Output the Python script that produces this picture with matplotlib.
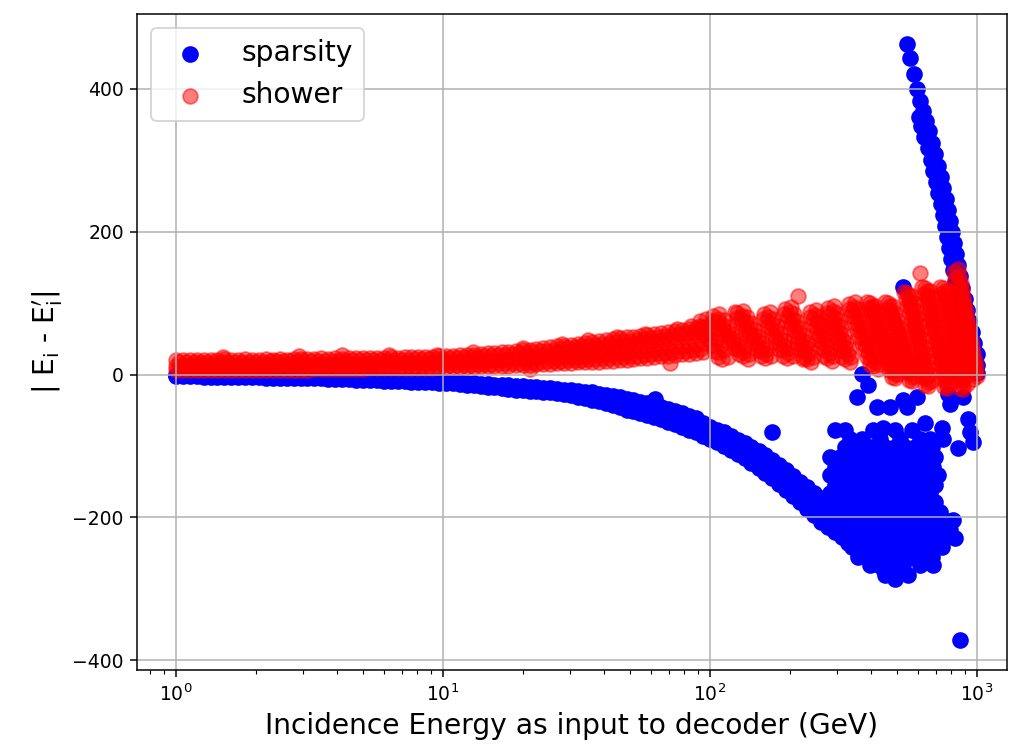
import matplotlib
matplotlib.use("Agg")
import matplotlib.pyplot as plt

# ---------------- data ----------------
# energies (GeV) of the low-energy band
band_energy = [1.00, 1.06, 1.13, 1.20, 1.27, 1.35, 1.43, 1.52, 1.61, 1.71,
               1.82, 1.93, 2.05, 2.18, 2.31, 2.45, 2.60, 2.76, 2.93, 3.11,
               3.30, 3.50, 3.72, 3.95, 4.19, 4.45, 4.72, 5.01, 5.32, 5.65,
               6.00, 6.37, 6.76, 7.18, 7.62, 8.09, 8.59, 9.12, 9.68, 10.3,
               10.9, 11.6, 12.3, 13.1, 13.9, 14.7, 15.6, 16.6, 17.6, 18.7,
               19.9, 21.1, 22.4, 23.8, 25.2, 26.8, 28.4, 30.2, 32.0, 34.0,
               36.1, 38.3, 40.7, 43.2, 45.9, 48.7, 51.7, 54.9, 58.3, 61.9,
               65.7, 69.8, 74.1, 78.7, 83.5, 88.7, 94.2]
band_energy_b = [1.03, 1.095, 1.165, 1.235, 1.31, 1.39, 1.475, 1.565, 1.66, 1.765,
                 1.875, 1.99, 2.115, 2.245, 2.38, 2.525, 2.68, 2.845, 3.02, 3.205,
                 3.40, 3.61, 3.835, 4.07, 4.32, 4.585, 4.865, 5.165, 5.485, 5.825,
                 6.185, 6.565, 6.97, 7.40, 7.855, 8.34, 8.855, 9.40, 9.99, 10.6,
                 11.25, 11.95, 12.7, 13.5, 14.3, 15.15, 16.1, 17.1, 18.15, 19.3,
                 20.5, 21.75, 23.1, 24.5, 26.0, 27.6, 29.3, 31.1, 33.0, 35.05,
                 37.2, 39.5, 41.95, 44.55, 47.3, 50.2, 53.3, 56.6, 60.1, 63.8,
                 67.75, 71.95, 76.4, 81.1, 86.1, 91.45]
tail_energy = [100, 106, 113, 120, 127, 135, 143, 152, 161, 171, 182, 193, 205,
               218, 231, 245, 260, 276, 293, 311, 330, 350, 372, 395, 419, 445, 472]

# sparsity: main descending curve (upper and lower edge, middle)
sparsity_top = [0, 0, -0.5, -0.5, -1, -1, -1, -1, -1.5, -1.5,
                -2, -2, -2, -2.5, -2.5, -2.5, -3, -3, -3, -3.5,
                -3.5, -3.5, -4, -4, -4.5, -4.5, -5, -5, -5.5, -6,
                -6.5, -6.5, -7, -7.5, -8, -8, -8.5, -9, -9.5, -10,
                -10.5, -11, -11.5, -12, -13, -13.5, -14, -14.5, -15, -15.5,
                -16, -17, -18, -19, -19.5, -20, -21, -22, -23, -24,
                -25, -27, -29, -30, -32, -34, -36, -38, -40, -42,
                -45, -48, -51, -54, -58, -61, -68, -73, -77, -81,
                -86, -91, -96, -101, -107, -113, -120, -127, -134, -142,
                -150, -158, -166, -173, -180, -186, -192, -199, -205, -212,
                -218, -224, -230, -237]
sparsity_bottom = [-2, -2, -2.5, -2.5, -3, -3, -3, -3, -3.5, -3.5,
                   -4, -4, -4, -4.5, -4.5, -4.5, -5, -5, -5, -5.5,
                   -5.5, -5.5, -6, -6, -6.5, -6.5, -7, -7, -7.5, -8,
                   -8.5, -8.5, -9, -9.5, -10, -10, -10.5, -11, -11.5, -12,
                   -12.5, -13.5, -14, -15, -16, -17, -17.5, -19, -20, -21,
                   -22, -22.5, -23.5, -24, -25, -26, -27.5, -29, -31, -33,
                   -35, -37.5, -40, -43, -46, -49, -51, -54, -57, -59,
                   -62, -66, -69, -73, -77, -81, -86, -90, -95, -100,
                   -106, -111, -117, -124, -131, -138, -145, -153, -161, -170,
                   -178, -188, -197, -206, -214, -221, -228, -236, -243, -250,
                   -258, -265, -272, -279]
sparsity_middle = [-34.5, -36.5, -39, -41.5, -43.5, -46, -48.5, -50.5, -53.5, -57,
                   -60, -63.5, -67.5, -71, -77, -81.5, -86, -90.5, -96, -101,
                   -106.5, -112.5, -119, -125.5, -132.5, -140, -147.5, -156, -164, -173,
                   -181.5, -189.5, -197, -203.5, -210, -217.5, -224, -231, -238, -244.5,
                   -251, -258]

# sparsity: scattered cluster at high energy  (deviation, energies)
cluster_rows = [
    (-78, [294, 320, 408, 493, 571]),
    (-90, [335, 371, 433, 515, 612, 667]),
    (-102, [320, 358, 398, 453, 493, 537, 586, 639, 679]),
    (-116, [281, 307, 335, 365, 391, 426, 464, 506, 552, 601, 656, 696]),
    (-129, [294, 320, 349, 381, 415, 453, 493, 537, 586, 639, 684]),
    (-141, [281, 307, 335, 365, 398, 433, 472, 515, 561, 612, 667, 715]),
    (-154, [294, 320, 349, 381, 415, 453, 493, 537, 586, 639, 696]),
    (-166, [281, 307, 335, 365, 398, 433, 472, 515, 561, 612, 667]),
    (-179, [270, 294, 320, 349, 381, 415, 453, 493, 537, 586, 639, 696]),
    (-192, [281, 307, 335, 365, 398, 433, 472, 515, 561, 612, 667, 727]),
    (-204, [294, 320, 349, 381, 415, 453, 493, 537, 586, 639, 696, 759, 813]),
    (-217, [307, 335, 365, 398, 433, 472, 515, 561, 612, 667, 727, 792]),
    (-229, [320, 349, 381, 415, 453, 493, 537, 586, 639, 696, 759, 827]),
    (-242, [340, 371, 404, 441, 480, 524, 571, 622, 679, 740]),
    (-255, [358, 391, 426, 464, 506, 571, 622, 679]),
    (-267, [398, 433, 472, 528, 612, 684]),
    (-280, [453, 493, 552]),
]
sparsity_extra_energy = [62.2, 170.7, 528, 864, 371, 391, 355, 596, 886, 779, 792, 422,
                         472, 547, 528, 926, 639, 445, 740, 942, 746, 966, 849, 493]
sparsity_extra_dev = [-33.6, -81, 123, -372, 1.4, -15, -32, -32, -32, -27, -41, -46,
                      -46, -46, -36, -62, -68, -75, -75, -81, -90, -95, -103, -286]

# sparsity: steep rising branch near 1 TeV
steep_energy_a = [546.8, 561.1, 580.8, 596.2, 611.8, 627.9, 644.3, 658.2, 678.5, 696.2,
                  714.5, 729.9, 746.0, 762.1, 778.8, 792.4, 806.2, 820.3, 834.6, 849.1,
                  863.7, 878.7, 897.9, 913.6, 933.6, 954.0, 974.4, 995.8, 1000.0, 1000.0]
steep_dev_a = [463, 443.4, 421, 400, 383.2, 369.2, 355.2, 341.3, 324.5, 309.1,
               292.3, 276.9, 261.5, 246.2, 230.8, 215.4, 200.0, 184.6, 169.2, 153.8,
               138.5, 121.7, 106.3, 90.9, 75.5, 60.1, 44.8, 29.4, 14.0, 2.8]
steep_energy_b = [603.9, 618.7, 634.8, 652.6, 669.7, 685.4, 701.1, 716.4, 731.9, 746.0,
                  758.8, 772.0, 785.6, 799.3, 813.2, 827.4, 844.0, 860.0, 877.3, 896.4,
                  915.8, 937.6, 956.4, 966.4]
steep_dev_b = [360.5, 347.9, 332.9, 316.8, 300.7, 284.6, 269.2, 253.8, 238.5, 223.1,
               207.7, 192.3, 176.9, 161.5, 146.2, 130.1, 114.0, 98.6, 83.2, 67.8,
               52.4, 37.1, 21.7, 8.4]

# shower: low-energy band (rows from lower to upper edge)
shower_low = [6, 6, 6, 6, 6, 6.5, 6, 6.5, 6.5, 6.5,
              6.5, 6.5, 6.5, 7, 7, 7, 7, 7, 7, 7,
              7.5, 7.5, 7.5, 7.5, 8, 8, 8, 8, 8.5, 8.5,
              8.5, 8.5, 9, 9, 9, 9.5, 9.5, 9.5, 10, 10,
              10.5, 10.5, 11, 11, 11.5, 11.5, 12, 12.5, 12.5, 13,
              13.5, 14, 14.5, 15, 15, 15.5, 16, 16.5, 17, 17,
              17.5, 18, 18.5, 19, 20, 20.5, 21.5, 22.5, 23.5, 24.5,
              25.5, 26.5, 27.5, 28.5, 29, 30, 31]
shower_mid = [12.5, 13, 12.5, 13, 13, 13, 12.5, 13.5, 13, 13,
              13.5, 13, 13.5, 13.5, 13.5, 14, 13.5, 14, 14, 14,
              14, 14.5, 14, 15, 14.5, 15, 15, 15, 15, 15.5,
              15.5, 16, 15.5, 16, 16, 16, 16.5, 16.5, 17, 17.5,
              18, 18, 18.5, 19, 19.5, 20, 20.5, 21, 22, 22.5,
              23, 24, 25, 26, 26,
              23.5, 24, 25, 25.5, 26, 27, 28, 28.5, 29.5, 30.5, 31,
              32.5, 33.5, 34.5, 36, 37, 38, 39.5, 40.5, 41.5, 42.5, 44]
shower_mid2 = [31, 32, 33, 34, 35, 36, 37, 38.5, 39.5, 40, 41.5,
               42.5, 44, 45.5, 46.5, 48, 49.5, 50.5, 52, 53, 54.5, 56]
shower_high = [20, 21, 20, 21, 20.5, 21, 20, 21.5, 20.5, 21,
               21.5, 20.5, 21, 21.5, 21, 22, 21, 21.5, 22, 21.5,
               22, 22.5, 22, 23, 22, 22.5, 23, 23.5, 22.5, 23.5,
               23, 24, 23.5, 24, 24.5, 24, 25, 24.5, 25.5, 26,
               26, 27, 27.5, 28, 29, 29.5, 30, 31, 32, 33,
               34, 35, 36, 37.5, 38.5, 39.5, 40.5, 42, 43, 44.5,
               46, 47, 48.5, 49.5, 50.5, 52, 53, 54.5, 56, 57,
               58.5, 60, 61.5, 63, 64, 65.5, 67]
shower_low_b = [9, 9, 9, 9, 9.5, 9.5, 9.5, 9.5, 9.5, 9.5,
                9.5, 9.5, 10, 10, 10, 10, 10, 10, 10, 10.5,
                10.5, 10.5, 10.5, 11, 11, 11, 11, 11.5, 11.5, 11.5,
                11.5, 12, 12, 12, 12.5, 12.5, 12.5, 13, 13, 13.5,
                13.5, 14, 14, 14.5, 14.5, 15, 15.5, 15.5, 16, 16.5,
                17, 17.5, 18, 18.5, 19, 19.5, 20, 20.5, 21, 21.5,
                22, 22.5, 23.5, 24, 25, 25.5, 26.5, 27.5, 28.5, 29.5,
                30.5, 31.5, 32.5, 33.5, 34.5, 35.5]
shower_high_b = [17, 17.5, 17.5, 17.5, 17.5, 17.5, 18, 17.5, 18, 18,
                 18, 18, 18, 18.5, 18.5, 18.5, 18.5, 18.5, 19, 19,
                 19, 19.5, 19.5, 19.5, 19.5, 20, 20, 20, 20.5, 20.5,
                 20.5, 21, 21, 21, 21.5, 21.5, 22, 22, 22.5, 23,
                 23.5, 24, 24.5, 25, 25.5, 26.5, 27, 28, 29, 29.5,
                 30.5, 31.5, 32.5, 33.5, 35, 36, 37, 38, 39.5, 40.5,
                 41.5, 43, 44, 45.5, 46.5, 47.5, 49, 50, 51.5, 53,
                 54, 55.5, 57, 58.5, 60, 61.5]
shower_bump_energy = [1.5, 2.9, 4.2, 6.3, 9.5, 13, 20, 28, 35, 45, 57, 75, 85]
shower_bump_dev = [25, 26, 27, 27, 28, 31, 37, 43, 48, 53, 57, 64, 68]
shower_outlier_energy = [124.1, 213.6, 223.0, 611.8, 70.8, 21.2]
shower_outlier_dev = [88.1, 110.5, 22.4, 142.7, 16.8, 8.4]

# shower: diagonal stripes at high energy (energies, deviations), several rows each
shower_stripes = [
    # stripe 0
    ([91.7, 94.7, 97.7, 100.9, 104.1, 107.4, 110.9],
     [75.5, 66.7, 57.8, 49.0, 40.2, 31.3, 22.4]),
    ([96.6, 99.7, 102.9, 106.3, 109.6, 113.1, 116.8],
     [78.3, 69.5, 60.6, 51.8, 43.0, 34.1, 25.2]),
    ([91.6, 94.6, 97.6, 100.7, 103.9, 107.2],
     [68.3, 59.5, 50.6, 41.8, 33.0, 24.1]),
    # stripe 1
    ([102.6, 107.1, 111.9, 116.8, 121.9, 127.4, 132.9],
     [82.5, 73.1, 63.9, 54.5, 45.2, 35.9, 26.6]),
    ([107.1, 111.9, 116.8, 121.9, 127.4, 132.9, 138.7],
     [78.3, 69.0, 59.7, 50.3, 41.0, 31.7, 22.4]),
    ([108.0, 112.8, 117.8, 123.0, 128.4, 134.2, 140.0],
     [85.3, 75.9, 66.7, 57.3, 48.0, 38.7, 29.4]),
    ([103.0, 107.6, 112.3, 117.3, 122.5, 127.9],
     [75.0, 65.7, 56.4, 47.1, 37.8, 28.5]),
    # stripe 2
    ([126.3, 130.6, 135.2, 139.9, 144.9, 150.0, 155.2, 160.7],
     [86.7, 77.8, 68.7, 59.7, 50.8, 41.8, 32.7, 23.8]),
    ([131.8, 136.4, 141.2, 146.2, 151.3, 156.6, 162.1],
     [82.5, 73.6, 64.5, 55.5, 46.6, 37.6, 28.5]),
    ([133.0, 137.5, 142.4, 147.3, 152.6, 158.0, 163.4, 169.2],
     [89.5, 80.6, 71.5, 62.5, 53.6, 44.6, 35.5, 26.6]),
    ([126.2, 130.6, 135.2, 140.0, 144.9, 150.0, 155.2],
     [79.5, 70.5, 61.4, 52.5, 43.5, 34.5, 25.5]),
    # stripe 3
    ([159.3, 163.5, 169.3, 175.2, 181.4, 187.7, 194.2],
     [85.3, 75.1, 64.8, 54.5, 44.3, 34.0, 23.8]),
    ([164.9, 170.7, 176.7, 182.9, 189.3, 195.9],
     [81.1, 70.9, 60.6, 50.3, 40.1, 29.8]),
    ([167.8, 172.2, 178.3, 184.5, 191.0, 197.7, 204.5],
     [88.1, 77.9, 67.6, 57.3, 47.1, 36.8, 26.6]),
    ([158.6, 163.6, 169.3, 175.3, 181.3, 187.6],
     [77.4, 67.2, 56.9, 46.6, 36.4, 26.1]),
    # stripe 4
    ([190.9, 195.9, 201.0, 206.3, 212.8, 218.6, 224.7, 230.8],
     [92.3, 82.4, 72.3, 62.4, 52.3, 42.4, 32.3, 22.4]),
    ([199.3, 204.5, 209.9, 215.4, 221.1, 226.9, 232.8, 239.0],
     [88.1, 78.2, 68.1, 58.2, 48.1, 38.2, 28.1, 18.2]),
    ([201.0, 206.3, 211.7, 217.3, 224.1, 230.2, 236.6, 243.1],
     [95.1, 85.2, 75.1, 65.2, 55.1, 45.2, 35.1, 25.2]),
    ([190.1, 195.0, 200.1, 205.9, 212.0, 217.8, 223.8],
     [84.6, 74.6, 64.6, 54.6, 44.6, 34.6, 24.6]),
    # stripe 5
    ([236.9, 243.1, 249.4, 256.0, 260.4, 267.3, 274.3],
     [88.1, 77.3, 66.7, 55.9, 45.2, 34.5, 23.8]),
    ([247.3, 253.8, 260.4, 267.3, 271.9, 279.1, 286.3],
     [83.9, 73.1, 62.5, 51.7, 41.0, 30.3, 19.6]),
    ([249.5, 256.0, 262.6, 269.6, 274.2, 281.5, 288.9],
     [90.9, 80.1, 69.5, 58.7, 48.0, 37.3, 26.6]),
    ([235.9, 242.0, 248.4, 253.8, 259.3, 266.2],
     [79.9, 69.2, 58.5, 47.8, 37.1, 26.4]),
    # stripe 6
    ([276.7, 281.4, 288.8, 293.9, 301.6, 306.9, 314.9, 320.4],
     [93.7, 83.5, 73.3, 63.1, 53.0, 42.8, 32.6, 22.4]),
    ([288.8, 293.9, 301.6, 306.9, 314.9, 320.4, 328.8, 334.5],
     [89.5, 79.3, 69.1, 58.9, 48.8, 38.6, 28.4, 18.2]),
    ([291.4, 296.3, 304.1, 309.5, 317.6, 323.2, 331.6, 337.4],
     [96.5, 86.3, 76.1, 65.9, 55.8, 45.6, 35.4, 25.2]),
    ([274.2, 280.2, 286.3, 292.6, 299.0, 305.6, 312.2],
     [85.8, 75.6, 65.4, 55.3, 45.1, 34.9, 24.7]),
    # stripe 7
    ([331.7, 340.3, 346.2, 355.3, 364.6, 370.9, 380.6, 390.6, 397.5, 407.9],
     [99.3, 89.6, 80.0, 70.3, 60.7, 51.2, 41.5, 31.9, 22.2, 12.6]),
    ([346.2, 355.3, 361.5, 370.9, 380.6, 387.2, 397.5, 407.9, 415.0, 425.9],
     [95.1, 85.5, 75.8, 66.2, 56.5, 47.0, 37.3, 27.7, 18.0, 8.4]),
    ([349.3, 358.4, 364.6, 374.2, 384.0, 390.6, 400.8, 411.3, 418.6, 429.6],
     [102.1, 92.4, 82.8, 73.1, 63.5, 54.0, 44.3, 34.7, 25.0, 15.4]),
    ([330.3, 337.3, 344.7, 353.7, 361.4, 369.3, 379.0, 387.3, 395.8],
     [91.7, 82.0, 72.4, 62.7, 53.2, 43.6, 33.9, 24.3, 14.6]),
    # stripe 8
    ([397.5, 404.4, 413.2, 422.2, 429.6, 438.6, 447.1, 456.0, 465.2, 474.3, 481.7, 493.0],
     [100.7, 91.2, 81.7, 72.0, 62.5, 53.0, 43.5, 34.0, 24.5, 14.8, 5.3, -4.2]),
    ([415.0, 423.3, 431.4, 440.1, 449.0, 458.0, 466.8, 476.0, 485.5, 495.1, 504.6],
     [96.5, 87.0, 77.5, 67.8, 58.3, 48.8, 39.3, 29.8, 20.3, 10.6, 1.1]),
    ([387.4, 394.1, 402.7, 411.4, 418.6, 427.4, 435.7, 444.4, 453.3, 462.2, 469.4, 480.4],
     [102.1, 92.6, 83.1, 73.4, 63.9, 54.4, 44.9, 35.4, 25.9, 16.2, 6.7, -2.8]),
    ([404.4, 412.4, 421.3, 429.6, 437.9, 446.7, 455.4, 464.6, 473.8, 482.2, 491.5],
     [96.0, 86.5, 76.9, 67.3, 57.8, 48.3, 38.8, 29.3, 19.7, 10.1, 0.6]),
    # stripe 9
    ([464.4, 473.1, 482.2, 490.9, 500.3, 509.9, 519.6, 529.6, 539.7, 549.6, 560.2, 570.9],
     [100.7, 90.8, 80.8, 70.9, 61.0, 51.0, 41.3, 31.3, 21.4, 11.5, 1.5, -8.4]),
    ([484.6, 493.9, 503.3, 512.5, 522.3, 532.3, 542.5, 553.0, 563.5, 573.8, 584.9],
     [96.5, 86.6, 76.6, 66.7, 56.8, 46.9, 37.1, 27.1, 17.2, 7.3, -2.7]),
    ([452.6, 461.0, 469.9, 478.4, 487.5, 496.9, 506.4, 516.1, 525.9, 535.6, 545.9, 556.3],
     [102.1, 92.2, 82.2, 72.3, 62.4, 52.4, 42.7, 32.7, 22.8, 12.9, 2.9, -7.0]),
    ([472.8, 481.8, 490.7, 499.9, 509.5, 519.2, 529.2, 539.3, 549.3, 559.7, 570.4],
     [95.8, 85.8, 75.9, 66.0, 56.0, 46.2, 36.3, 26.4, 16.5, 6.5, -3.5]),
    # stripe 10
    ([546.8, 554.3, 562.1, 569.9, 578.2, 586.5, 594.7, 602.9, 611.3, 619.8, 629.0, 637.6, 646.5, 655.4],
     [114.7, 104.6, 94.7, 84.6, 74.7, 64.6, 54.7, 44.6, 34.7, 24.6, 14.7, 4.6, -5.3, -15.4]),
    ([570.9, 578.8, 587.0, 595.2, 603.9, 612.3, 620.9, 629.5, 638.1, 647.1, 656.6, 665.6, 674.9],
     [110.5, 100.4, 90.5, 80.4, 70.5, 60.4, 50.5, 40.4, 30.5, 20.4, 10.5, 0.4, -9.5]),
    ([532.9, 540.2, 547.8, 555.4, 563.5, 571.5, 579.5, 587.5, 595.7, 604.0, 613.0, 621.3, 630.0, 638.7],
     [116.1, 106.0, 96.1, 86.0, 76.1, 66.0, 56.1, 46.0, 36.1, 26.0, 16.1, 6.0, -3.9, -14.0]),
    ([555.3, 563.1, 570.9, 579.0, 587.4, 595.7, 604.0, 612.4, 620.9, 629.8, 638.8, 647.6, 656.6],
     [109.7, 99.7, 89.7, 79.7, 69.7, 59.7, 49.7, 39.7, 29.7, 19.7, 9.7, -0.4, -10.4]),
    # stripe 11
    ([638.7, 647.6, 656.0, 665.1, 674.3, 683.7, 692.6, 702.3, 712.0, 721.1, 731.2, 741.4, 751.6, 761.4, 772.0],
     [121.7, 111.7, 101.7, 91.7, 81.7, 71.7, 61.7, 51.7, 41.8, 31.7, 21.8, 11.7, 1.8, -8.3, -18.2]),
    ([666.8, 676.1, 684.9, 694.4, 704.1, 713.8, 723.0, 733.1, 743.3, 752.9, 763.4, 774.1, 784.9, 795.2],
     [117.5, 107.5, 97.5, 87.6, 77.5, 67.6, 57.5, 47.6, 37.6, 27.6, 17.6, 7.6, -2.4, -12.4]),
    ([622.4, 631.1, 639.3, 648.1, 657.1, 666.3, 674.9, 684.4, 693.8, 702.7, 712.6, 722.5, 732.4, 742.0, 752.3],
     [123.1, 113.1, 103.1, 93.1, 83.1, 73.1, 63.1, 53.1, 43.2, 33.1, 23.2, 13.1, 3.2, -6.9, -16.8]),
    ([648.7, 657.5, 666.2, 675.5, 684.9, 694.1, 703.5, 713.3, 722.7, 732.4, 742.7, 753.0, 763.1, 773.4],
     [116.7, 106.7, 96.7, 86.7, 76.7, 66.7, 56.7, 46.8, 36.8, 26.8, 16.8, 6.8, -3.3, -13.3]),
    # stripe 12
    ([745.8, 754.9, 764.7, 774.1, 783.5, 793.1, 803.4, 813.2, 823.1, 833.9, 844.0, 854.0, 864.5, 875.7, 886.3],
     [121.7, 111.6, 101.5, 91.5, 81.3, 71.2, 61.1, 51.0, 41.0, 30.9, 20.8, 10.6, 0.6, -9.5, -19.6]),
    ([778.7, 788.3, 798.6, 808.3, 818.1, 828.1, 838.9, 849.1, 859.2, 870.4, 881.1, 891.7, 902.6, 914.3],
     [117.5, 107.4, 97.3, 87.3, 77.1, 67.0, 56.9, 46.9, 36.8, 26.7, 16.6, 6.4, -3.6, -13.7]),
    ([726.8, 735.6, 745.2, 754.4, 763.5, 772.9, 782.9, 792.5, 802.1, 812.6, 822.5, 832.2, 842.5, 853.4, 863.7],
     [123.1, 113.0, 102.9, 92.9, 82.7, 72.6, 62.5, 52.4, 42.4, 32.3, 22.2, 12.0, 2.0, -8.1, -18.2]),
    ([756.8, 766.4, 776.1, 785.6, 795.2, 805.1, 815.3, 825.2, 835.7, 846.2, 856.4, 866.7, 877.7, 888.7],
     [116.7, 106.6, 96.5, 86.4, 76.3, 66.2, 56.1, 46.0, 36.0, 25.9, 15.7, 5.6, -4.5, -14.6]),
    # stripe 13
    ([849.1, 858.5, 867.4, 877.3, 887.1, 896.4, 906.5, 916.7, 926.2, 936.8, 947.4, 957.2, 968.0, 978.7, 988.9, 1000.0],
     [148.3, 138.3, 128.3, 118.3, 108.4, 98.3, 88.4, 78.4, 68.4, 58.5, 48.5, 38.5, 28.5, 18.6, 8.5, -1.4]),
    ([820.3, 829.6, 838.2, 847.7, 857.0, 865.9, 875.7, 885.6, 894.8, 904.9, 915.1, 924.7, 935.2, 945.8, 955.6, 966.4],
     [144.1, 134.1, 124.1, 114.1, 104.2, 94.1, 84.2, 74.3, 64.2, 54.3, 44.3, 34.3, 24.3, 14.4, 4.3, -5.6]),
    ([864.7, 874.5, 883.9, 893.6, 903.7, 913.4, 923.4, 933.9, 944.0, 954.2, 964.8, 975.2, 985.7],
     [123.3, 113.4, 103.4, 93.4, 83.4, 73.4, 63.5, 53.5, 43.5, 33.5, 23.6, 13.6, 3.6]),
]

# ---------------- assemble series ----------------
curve_energy = band_energy + tail_energy
mid_energy = curve_energy[62:]

sx, sy = [], []
for xs, ys in [(curve_energy, sparsity_bottom), (curve_energy, sparsity_top),
               (mid_energy, sparsity_middle), (steep_energy_a, steep_dev_a),
               (steep_energy_b, steep_dev_b),
               (sparsity_extra_energy, sparsity_extra_dev)]:
    for a, b in zip(xs, ys):
        sx.append(a)
        sy.append(b)
for dev, energies in cluster_rows:
    for e in energies:
        sx.append(e)
        sy.append(dev)

rx, ry = [], []
for xs, ys in [(band_energy, shower_low), (band_energy, shower_mid),
               (band_energy[55:], shower_mid2), (band_energy, shower_high),
               (band_energy_b, shower_low_b), (band_energy_b, shower_high_b),
               (shower_bump_energy, shower_bump_dev),
               (shower_outlier_energy, shower_outlier_dev)] + shower_stripes:
    for a, b in zip(xs, ys):
        rx.append(a)
        ry.append(b)

# ---------------- plot ----------------
DPI = 135
fig = plt.figure(figsize=(1013 / DPI, 752 / DPI), dpi=DPI)
ax = fig.add_axes([0.1352, 0.1090, 0.8589, 0.8724])

ax.scatter(sx, sy, s=62, color='blue', label='sparsity')
ax.scatter(rx, ry, s=62, color='red', alpha=0.5, label='shower')

ax.set_xscale('log')
ax.set_xlim(0.715, 1295)
ax.grid(True)
ax.set_xlabel('Incidence Energy as input to decoder (GeV)', fontsize=15)
ax.set_ylabel(r'| E$_{\mathregular{i}}$ - E$_{\mathregular{i}}^{\prime}$|', fontsize=15)
ax.legend(loc='upper left', fontsize=15)

fig.savefig('out.png', dpi=DPI)
